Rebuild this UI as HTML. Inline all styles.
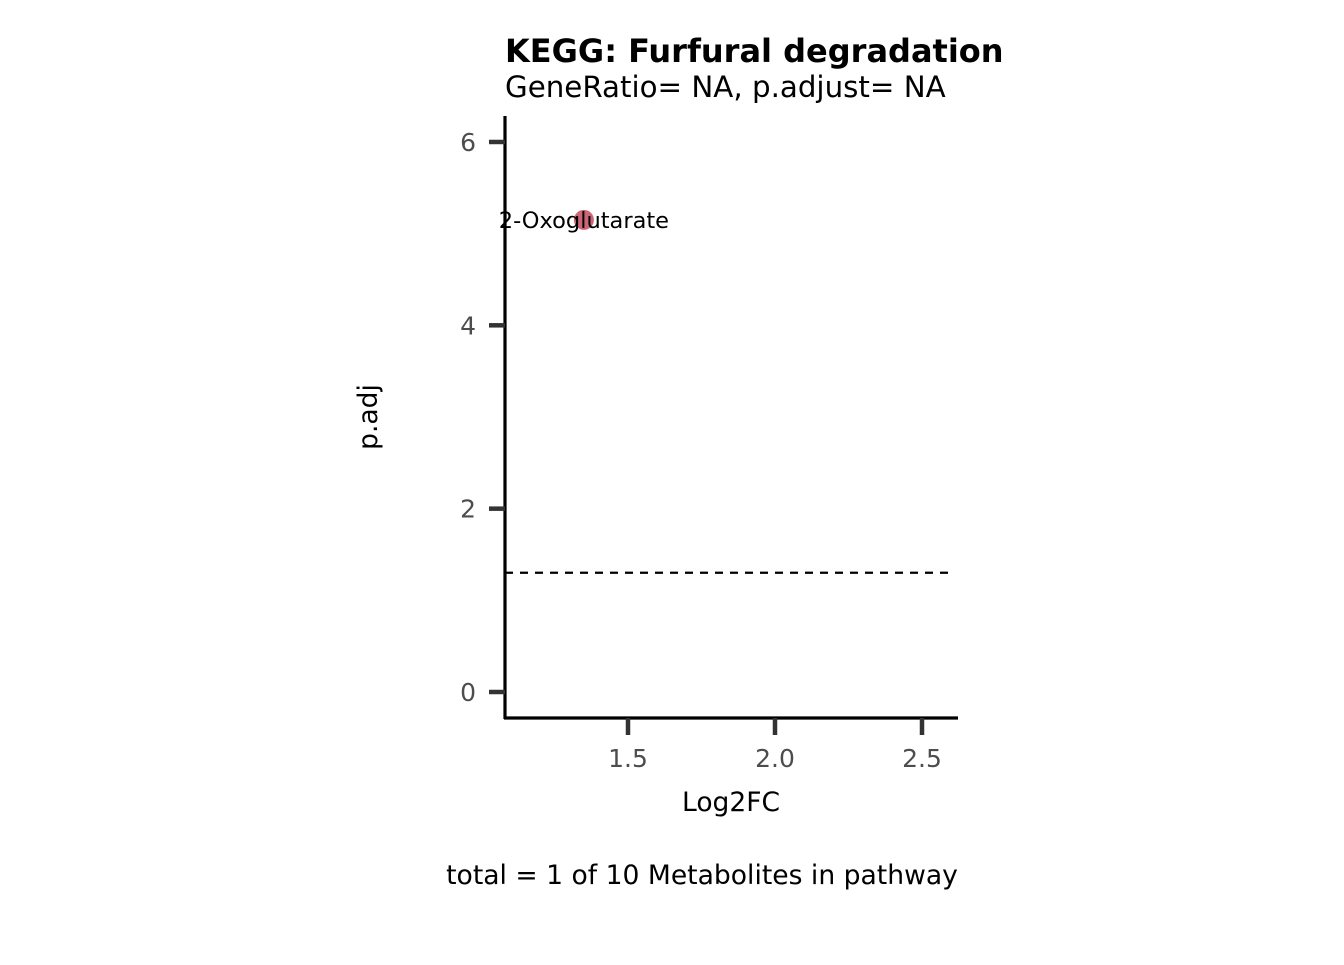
<!DOCTYPE html>
<html><head><meta charset="utf-8"><style>
body{margin:0;background:#fff}
svg text{font-family:"DejaVu Sans","Liberation Sans",sans-serif}
</style></head><body>
<svg width="1344" height="960" xmlns="http://www.w3.org/2000/svg">
<text x="505" y="62" style="font-size:32px;font-weight:bold">KEGG: Furfural degradation</text>
<text x="505" y="97" style="font-size:29.3px">GeneRatio= NA, p.adjust= NA</text>
<g id="plot"></g>
<text x="731" y="811" style="font-size:26.5px" text-anchor="middle">Log2FC</text>
<text transform="translate(377,417) rotate(-90)" style="font-size:26.5px" text-anchor="middle">p.adj</text>
<text x="702" y="884" style="font-size:26.6px" text-anchor="middle">total = 1 of 10 Metabolites in pathway</text>
</svg>
<script>
const xTicks=[1.5,2.0,2.5];
const yTicks=[0,2,4,6];
const labels=["2-Oxoglutarate"];
const log2fc=[1.35];
const padj=[5.15];
const threshold=[1.301];
const X=v=>628+(v-1.5)*294;
const Y=v=>692-v*91.67;
const g=document.getElementById('plot');
const NS="http://www.w3.org/2000/svg";
function mk(t,a){const e=document.createElementNS(NS,t);for(const k in a)e.setAttribute(k,a[k]);g.appendChild(e);return e;}
threshold.forEach(t=>{const l=mk('line',{x1:505,x2:950,y1:Y(t),y2:Y(t),stroke:'#000','stroke-width':2.2,'stroke-dasharray':'8,7'});

});
let a=mk('line',{x1:505,x2:505,y1:116,y2:719,stroke:'#000','stroke-width':3.2});


a=mk('line',{x1:504,x2:958,y1:718,y2:718,stroke:'#000','stroke-width':3.2});


yTicks.forEach(v=>{const t=mk('line',{x1:489,x2:505,y1:Y(v),y2:Y(v),stroke:'#333','stroke-width':4.5});


const s=mk('text',{x:476,y:Y(v)+9,fill:'#4d4d4d','text-anchor':'end',style:'font-size:25px'});s.textContent=v;

});
xTicks.forEach(v=>{const t=mk('line',{x1:X(v),x2:X(v),y1:718,y2:735,stroke:'#333','stroke-width':4.5});


const s=mk('text',{x:X(v),y:767,fill:'#4d4d4d','text-anchor':'middle',style:'font-size:25px'});s.textContent=v.toFixed(1);

});
log2fc.forEach((v,i)=>{const c=mk('circle',{cx:X(v),cy:Y(padj[i]),r:10,fill:'#cc6677'});


const s=mk('text',{x:X(v),y:Y(padj[i])+8,'text-anchor':'middle',style:'font-size:22.5px'});s.textContent=labels[i];

});
</script>
</body></html>
